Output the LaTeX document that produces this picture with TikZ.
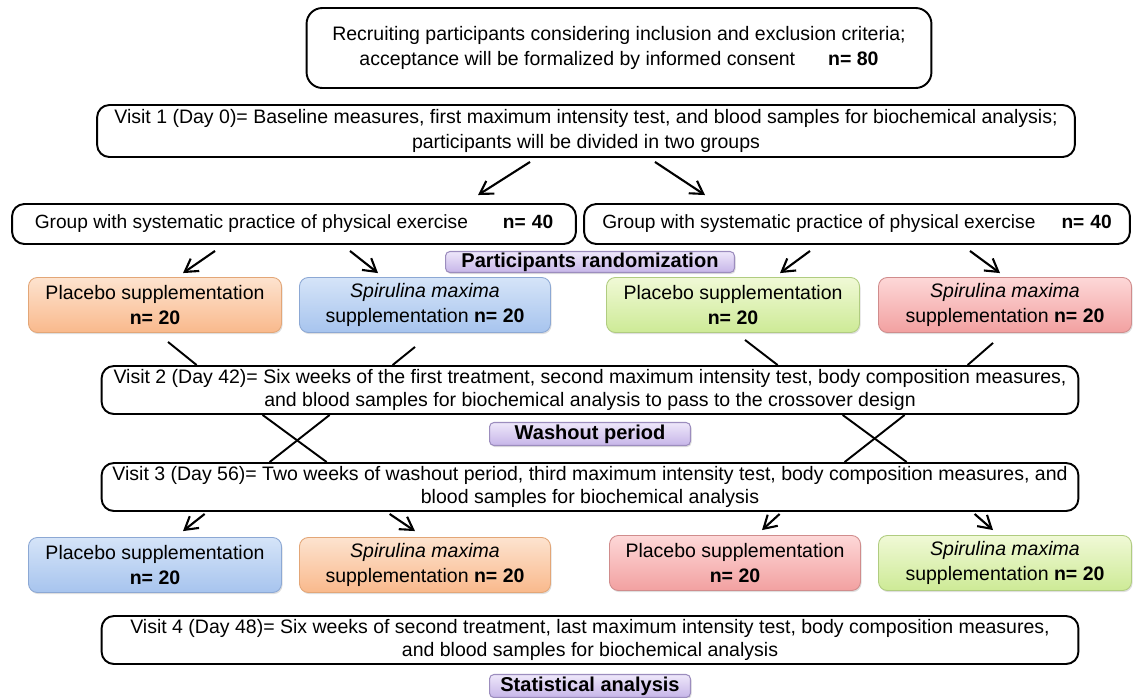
\documentclass[tikz,border=0pt]{standalone}
\usepackage{fontspec}
\setmainfont{Liberation Sans}
\usetikzlibrary{positioning, calc, arrows.meta, shadows}

\definecolor{orgtop}{HTML}{FDE3CF}\definecolor{orgbot}{HTML}{F9B98C}\definecolor{orgline}{HTML}{E3A677}
\definecolor{blutop}{HTML}{D5E4F8}\definecolor{blubot}{HTML}{A7C4EE}\definecolor{bluline}{HTML}{8CA8D4}
\definecolor{grntop}{HTML}{F0F9D6}\definecolor{grnbot}{HTML}{CDEA96}\definecolor{grnline}{HTML}{B0CC80}
\definecolor{redtop}{HTML}{FDD8D8}\definecolor{redbot}{HTML}{F2A0A0}\definecolor{redline}{HTML}{D08C8C}
\definecolor{purtop}{HTML}{EEE7FA}\definecolor{purbot}{HTML}{C6B5E8}\definecolor{purline}{HTML}{9C8DBE}

\begin{document}
\begin{tikzpicture}[x=0.02cm, y=0.02cm,
  every node/.style={font=\fontsize{11.1}{14.2}\selectfont, align=center, inner sep=0pt},
  visitbox/.style={draw, line width=1.1pt, rounded corners=7pt},
  tightbox/.style={visitbox, font=\fontsize{11.1}{12.8}\selectfont, minimum width=19.54cm, minimum height=0.96cm},
  groupbox/.style={visitbox, font=\fontsize{10.9}{14}\selectfont, minimum height=0.8cm},
  colbox/.style={draw, line width=0.5pt, rounded corners=5pt, minimum height=1.1cm,
    drop shadow={shadow xshift=0.6pt, shadow yshift=-0.9pt, opacity=0.25}},
  tagbox/.style={draw=purline, line width=0.6pt, rounded corners=2.5pt, top color=purtop, bottom color=purbot,
    font=\fontsize{11.4}{13}\selectfont\bfseries,
    drop shadow={shadow xshift=0.6pt, shadow yshift=-0.9pt, opacity=0.25}},
  orgbox/.style={colbox, draw=orgline, top color=orgtop, bottom color=orgbot},
  blubox/.style={colbox, draw=bluline, top color=blutop, bottom color=blubot},
  grnbox/.style={colbox, draw=grnline, top color=grntop, bottom color=grnbot},
  redbox/.style={colbox, draw=redline, top color=redtop, bottom color=redbot},
  arr/.style={-{Straight Barb[length=2.5mm, width=3mm, line width=1.2pt]}, line width=1.2pt},
  lin/.style={line width=1.1pt}]
\useasboundingbox (0,0) rectangle (1135,-697);

% recruiting and first visit
\node[visitbox, rounded corners=9pt, minimum width=12.5cm, minimum height=1.6cm] (rec) at (619,-48)
  {Recruiting participants considering inclusion and exclusion criteria;\\
   acceptance will be formalized by informed consent\hspace{0.66cm}\textbf{n= 80}};
\node[visitbox, minimum width=19.56cm, minimum height=1.04cm] (v1) at (586,-131)
  {Visit 1 (Day 0)= Baseline measures, first maximum intensity test, and blood samples for biochemical analysis;\\
   participants will be divided in two groups};

% groups
\node[groupbox, minimum width=11.28cm] (g1) at (294,-224)
  {Group with systematic practice of physical exercise\hspace{0.7cm}\textbf{n=\hspace{0.12cm}40}};
\node[groupbox, minimum width=10.92cm] (g2) at (857,-224)
  {Group with systematic practice of physical exercise\hspace{0.52cm}\textbf{n=\hspace{0.12cm}40}};
\node[tagbox, minimum width=5.78cm, minimum height=0.42cm] (rand) at (590,-262) {Participants randomization};

% first treatment
\node[orgbox, minimum width=5.06cm] (p1) at (155,-305) {Placebo supplementation\\\textbf{n= 20}};
\node[blubox, minimum width=5.02cm] (s1) at (425,-305) {\textit{Spirulina maxima}\\supplementation \textbf{n= 20}};
\node[grnbox, minimum width=5.06cm] (p2) at (733,-305) {Placebo supplementation\\\textbf{n= 20}};
\node[redbox, minimum width=5.06cm] (s2) at (1005,-305) {\textit{Spirulina maxima}\\supplementation \textbf{n= 20}};

% crossover
\node[tightbox] (v2) at (590,-390)
  {Visit 2 (Day 42)= Six weeks of the first treatment, second maximum intensity test, body composition measures,\\
   and blood samples for biochemical analysis to pass to the crossover design};
\node[tagbox, minimum width=4.02cm, minimum height=0.46cm] (wash) at (590,-434) {Washout period};
\node[tightbox] (v3) at (590,-487)
  {Visit 3 (Day 56)= Two weeks of washout period, third maximum intensity test, body composition measures, and\\
   blood samples for biochemical analysis};

% second treatment
\node[blubox, minimum width=5.06cm] (p3) at (155,-565) {Placebo supplementation\\\textbf{n= 20}};
\node[orgbox, minimum width=5.02cm] (s3) at (425,-565) {\textit{Spirulina maxima}\\supplementation \textbf{n= 20}};
\node[redbox, minimum width=5.02cm] (p4) at (735,-563) {Placebo supplementation\\\textbf{n= 20}};
\node[grnbox, minimum width=5.06cm] (s4) at (1005,-563) {\textit{Spirulina maxima}\\supplementation \textbf{n= 20}};

\node[tightbox] (v4) at (590,-640)
  {Visit 4 (Day 48)= Six weeks of second treatment, last maximum intensity test, body composition measures,\\
   and blood samples for biochemical analysis};
\node[tagbox, minimum width=4.02cm, minimum height=0.46cm] (stat) at (590,-686) {Statistical analysis};

% arrows
\draw[arr] ($(v1.south)+(-56,-4)$) -- ($(g1.north)+(184,8)$);
\draw[arr] ($(v1.south)+(69,-4)$) -- ($(g2.north)+(-152,8)$);
\draw[arr] ($(g1.south)+(-79,-6)$) -- ($(p1.north)+(28,4)$);
\draw[arr] ($(g1.south)+(56,-6)$) -- ($(s1.north)+(-47,4)$);
\draw[arr] ($(g2.south)+(-47,-6)$) -- ($(p2.north)+(47,4)$);
\draw[arr] ($(g2.south)+(113,-6)$) -- ($(s2.north)+(-5,4)$);

\draw[lin] ($(p1.south)+(13,-9)$) -- ($(v2.north west)+(96,0)$);
\draw[lin] ($(s1.south)+(-10,-14)$) -- ($(v2.north west)+(292,0)$);
\draw[lin] ($(p2.south)+(12,-7)$) -- ($(v2.north west)+(677,0)$);
\draw[lin] ($(s2.south)+(-12,-10)$) -- ($(v2.north west)+(867,0)$);

\draw[lin] ($(v2.south west)+(162,0)$) -- ($(v3.north west)+(226,0)$);
\draw[lin] ($(v2.south west)+(229,0)$) -- ($(v3.north west)+(169,0)$);
\draw[lin] ($(v2.south west)+(742,0)$) -- ($(v3.north west)+(806,0)$);
\draw[lin] ($(v2.south west)+(804,0)$) -- ($(v3.north west)+(744,0)$);

\draw[arr] ($(v3.south west)+(104,-2)$) -- ($(p3.north)+(28,6)$);
\draw[arr] ($(v3.south west)+(289,-2)$) -- ($(s3.north)+(-10,6)$);
\draw[arr] ($(v3.south west)+(679,-2)$) -- ($(p4.north)+(27,5)$);
\draw[arr] ($(v3.south west)+(874,-2)$) -- ($(s4.north)+(-12,5)$);
\end{tikzpicture}
\end{document}
